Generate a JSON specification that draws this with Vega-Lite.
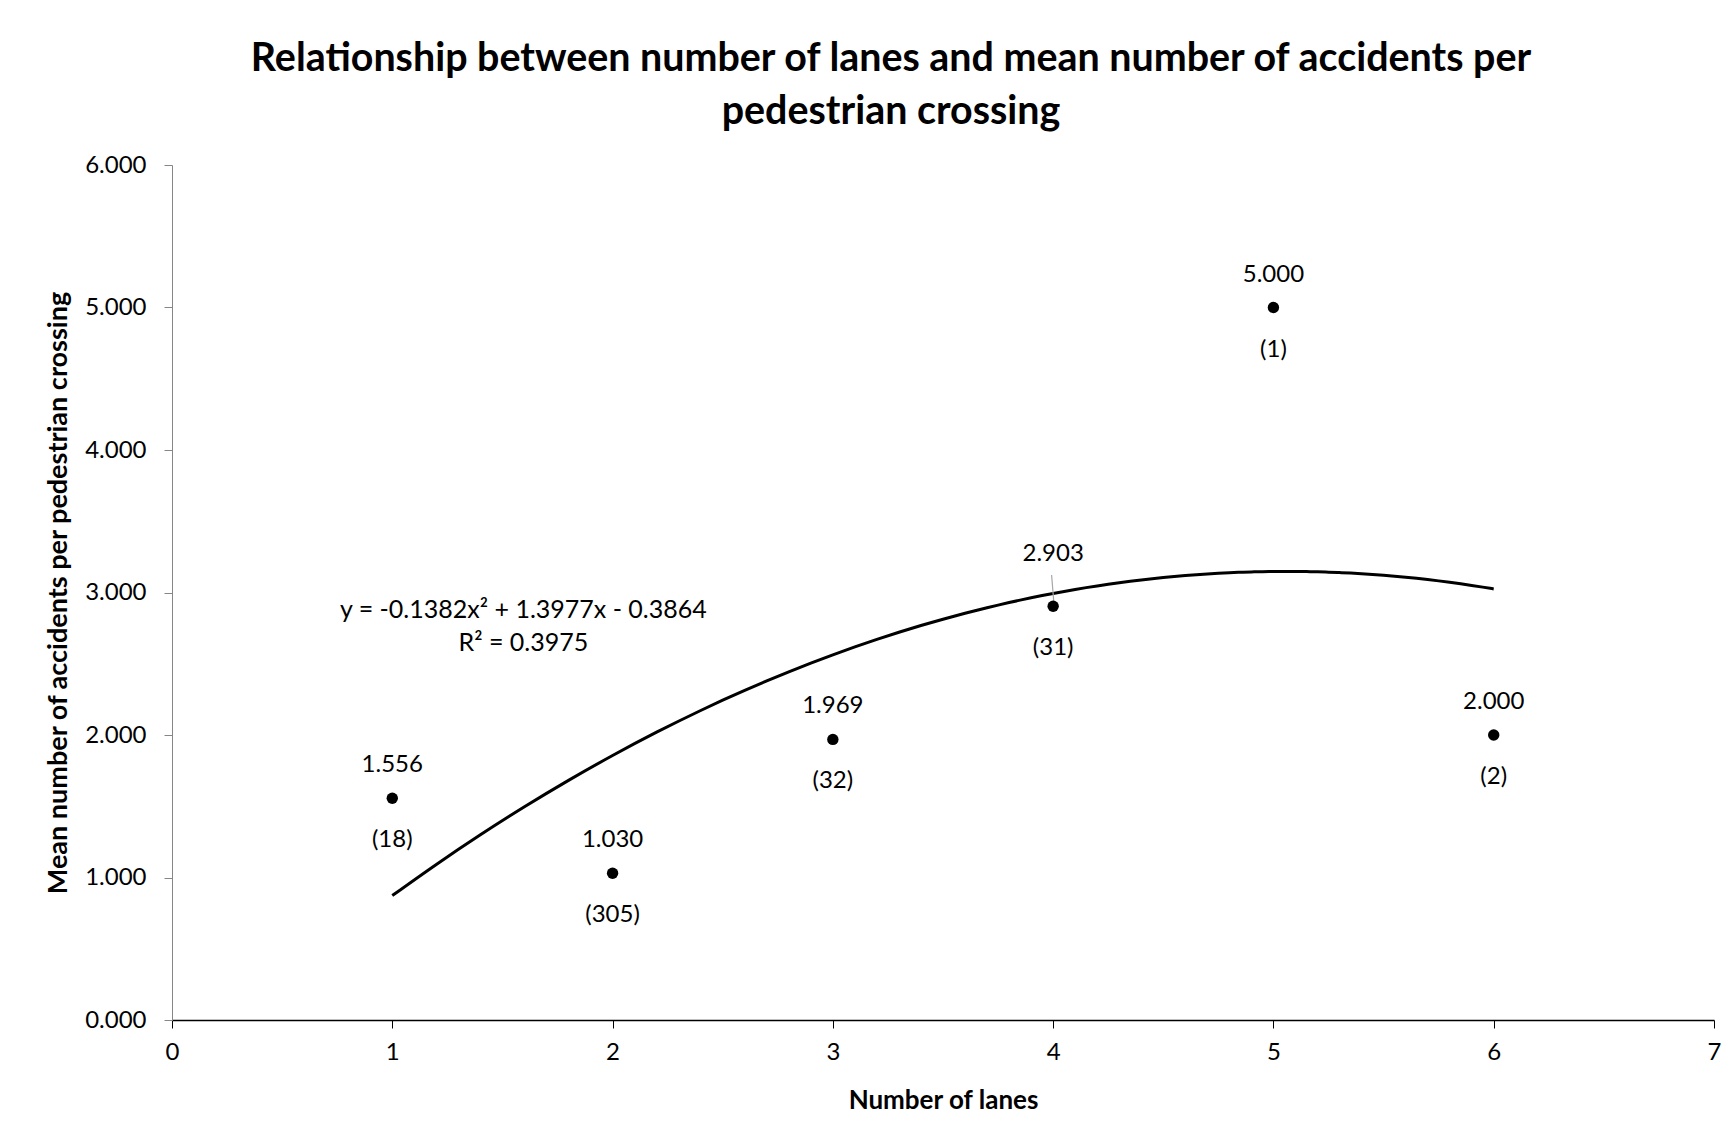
{
  "$schema": "https://vega.github.io/schema/vega-lite/v6.json",
  "autosize": {"type": "none"},
  "width": 1542,
  "height": 855,
  "padding": {"left": 172, "top": 165, "right": 15, "bottom": 118},
  "background": "white",
  "config": {
    "view": {"stroke": null},
    "font": "Lato",
    "text": {"font": "Lato", "fontSize": 24, "color": "#000000"}
  },
  "title": {
    "text": ["Relationship between number of lanes and mean number of accidents per", "pedestrian crossing"],
    "font": "Lato",
    "fontSize": 39.4,
    "fontWeight": "bold",
    "color": "#000000",
    "anchor": "middle",
    "frame": "group",
    "dx": -52,
    "lineHeight": 53,
    "offset": 21
  },
  "datasets": {
    "points": [
      {"lanes": 1, "mean": 1.556, "crossings": "(18)"},
      {"lanes": 2, "mean": 1.030, "crossings": "(305)"},
      {"lanes": 3, "mean": 1.969, "crossings": "(32)"},
      {"lanes": 4, "mean": 2.903, "crossings": "(31)"},
      {"lanes": 5, "mean": 5.000, "crossings": "(1)"},
      {"lanes": 6, "mean": 2.000, "crossings": "(2)"}
    ],
    "equation": [
      {"lanes": 1.595, "mean": 2.877, "text": "y = -0.1382x² + 1.3977x - 0.3864"},
      {"lanes": 1.595, "mean": 2.646, "text": "R² = 0.3975"}
    ],
    "leader": [
      {"lanes": 3.993, "mean": 3.123, "lanes2": 4.003, "mean2": 2.933}
    ]
  },
  "layer": [
    {
      "data": {"name": "points"},
      "transform": [
        {"regression": "mean", "on": "lanes", "method": "poly", "order": 2, "extent": [1, 6]}
      ],
      "mark": {"type": "line", "color": "#000000", "strokeWidth": 3, "interpolate": "monotone"},
      "encoding": {
        "x": {
          "field": "lanes", "type": "quantitative",
          "scale": {"domain": [0, 7], "nice": false, "zero": false},
          "axis": {
            "title": "Number of lanes",
            "titleFont": "Lato", "titleFontSize": 26, "titleFontWeight": "bold", "titleColor": "#000000",
            "titlePadding": 23,
            "values": [0, 1, 2, 3, 4, 5, 6, 7],
            "format": "d",
            "labelFont": "Lato", "labelFontSize": 24, "labelColor": "#000000",
            "labelPadding": 12,
            "labelFlush": false,
            "tickSize": 8, "tickColor": "#000000", "tickWidth": 1,
            "domainColor": "#000000", "domainWidth": 1.5,
            "grid": false
          }
        },
        "y": {
          "field": "mean", "type": "quantitative",
          "scale": {"domain": [0, 6], "nice": false, "zero": true},
          "axis": {
            "title": "Mean number of accidents per pedestrian crossing",
            "titleFont": "Lato", "titleFontSize": 27, "titleFontWeight": "bold", "titleColor": "#000000",
            "titlePadding": 12,
            "values": [0, 1, 2, 3, 4, 5, 6],
            "format": ".3f",
            "labelFont": "Lato", "labelFontSize": 24, "labelColor": "#000000",
            "labelPadding": 18,
            "labelFlush": false,
            "tickSize": 8, "tickColor": "#868686", "tickWidth": 1,
            "domainColor": "#868686", "domainWidth": 1,
            "grid": false
          }
        }
      }
    },
    {
      "data": {"name": "leader"},
      "mark": {"type": "rule", "color": "#a6a6a6", "strokeWidth": 1.2},
      "encoding": {
        "x": {"field": "lanes", "type": "quantitative"},
        "y": {"field": "mean", "type": "quantitative"},
        "x2": {"field": "lanes2"},
        "y2": {"field": "mean2"}
      }
    },
    {
      "data": {"name": "points"},
      "mark": {"type": "point", "filled": true, "color": "#000000", "size": 130, "opacity": 1, "shape": "circle"},
      "encoding": {
        "x": {"field": "lanes", "type": "quantitative"},
        "y": {"field": "mean", "type": "quantitative"}
      }
    },
    {
      "data": {"name": "points"},
      "transform": [{"filter": "datum.lanes != 4"}],
      "mark": {"type": "text", "dy": -33, "baseline": "middle", "align": "center"},
      "encoding": {
        "x": {"field": "lanes", "type": "quantitative"},
        "y": {"field": "mean", "type": "quantitative"},
        "text": {"field": "mean", "type": "quantitative", "format": ".3f"}
      }
    },
    {
      "data": {"name": "points"},
      "transform": [{"filter": "datum.lanes == 4"}],
      "mark": {"type": "text", "dy": -52, "baseline": "middle", "align": "center"},
      "encoding": {
        "x": {"field": "lanes", "type": "quantitative"},
        "y": {"field": "mean", "type": "quantitative"},
        "text": {"field": "mean", "type": "quantitative", "format": ".3f"}
      }
    },
    {
      "data": {"name": "points"},
      "mark": {"type": "text", "dy": 42, "baseline": "middle", "align": "center"},
      "encoding": {
        "x": {"field": "lanes", "type": "quantitative"},
        "y": {"field": "mean", "type": "quantitative"},
        "text": {"field": "crossings", "type": "nominal"}
      }
    },
    {
      "data": {"name": "equation"},
      "mark": {"type": "text", "baseline": "middle", "align": "center", "fontSize": 25},
      "encoding": {
        "x": {"field": "lanes", "type": "quantitative"},
        "y": {"field": "mean", "type": "quantitative"},
        "text": {"field": "text", "type": "nominal"}
      }
    }
  ]
}
